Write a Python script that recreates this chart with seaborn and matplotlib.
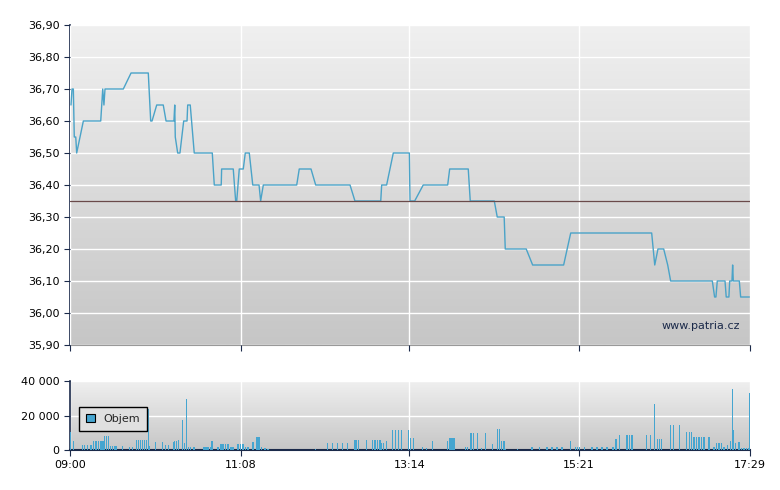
import numpy as np
import pandas as pd
import matplotlib
matplotlib.use("Agg")
import matplotlib.pyplot as plt
import seaborn as sns

# price path: minutes after 09:00, price
price_t = [0.75,1.5,2.5,3.2,4.3,5,10,23,24.5,25.4,26.2,39.9,45.7,58.6,60.4,61.4,64.9,69.8,71.9,77.8,78.4,78.8,80.6,82.3,
           85.1,87.6,88.1,90,93,106.5,108,113.2,113.5,122.2,124,124.8,126.7,129.7,131.2,134.2,136.8,141.5,142.7,144.7,
           169.7,171.6,180.4,183.9,209.6,213.3,232.6,233.3,237,242,254,254.5,258,264.4,282.7,284.2,298.1,299.6,317.6,
           319.8,325,325.8,341.5,346.3,369.5,374.8,435.4,437.7,440.1,444.4,447.4,449.6,480.8,482.5,483.5,484.5,490.3,
           491.2,493.2,493.8,495.5,496,496.5,501,502,508.5]
price_v = [36.65,36.70,36.70,36.55,36.55,36.50,36.60,36.60,36.70,36.65,36.70,36.70,36.75,36.75,36.60,36.60,36.65,36.65,
           36.60,36.60,36.65,36.55,36.50,36.50,36.60,36.60,36.65,36.65,36.50,36.50,36.40,36.40,36.45,36.45,36.35,36.35,
           36.45,36.45,36.50,36.50,36.40,36.40,36.35,36.40,36.40,36.45,36.45,36.40,36.40,36.35,36.35,36.40,36.40,36.50,
           36.50,36.35,36.35,36.40,36.40,36.45,36.45,36.35,36.35,36.30,36.30,36.20,36.20,36.15,36.15,36.25,36.25,36.15,
           36.20,36.20,36.15,36.10,36.10,36.05,36.05,36.10,36.10,36.05,36.05,36.10,36.10,36.15,36.10,36.10,36.05,36.05]
ref_price = 36.35

# volume bars: position in px-units of zoom (converted to minutes below), volume
vol_X = [143,150,168,172,178,185,190,195,200,205,209,212,216,220,224,228,232,235,248,262,268,276,280,284,288,292,296,300,
         301,303,315,328,335,340,350,353,357,360,369,373,377,381,385,392,412,416,420,425,428,440,446,450,455,460,466,470,
         480,485,490,495,500,510,518,522,527,534,540,636,660,670,680,690,700,715,718,722,738,750,755,760,765,768,772,778,
         790,796,802,808,822,826,832,850,858,870,900,905,909,913,936,940,946,949,952,960,968,977,990,1001,1004,1008,1012,
         1015,1017,1040,1070,1085,1100,1110,1120,1130,1147,1157,1161,1165,1175,1190,1200,1210,1220,1232,1238,1245,1260,
         1265,1270,1300,1308,1316,1322,1326,1330,1348,1354,1366,1380,1385,1390,1395,1400,1405,1410,1415,1425,1435,1440,
         1445,1450,1455,1462,1468,1472,1474,1478,1485,1490,1495,1500,1505,1507]
vol_v = [10600,5200,3000,3000,3000,3000,5500,5500,5500,5500,5500,8000,8000,8000,2500,2500,2500,2500,2500,2000,2000,6000,
         6000,6000,6000,6000,6000,6000,23500,2500,4500,4500,3000,3000,4500,5000,5500,6000,17500,4000,29500,2000,2000,2000,
         2000,2000,2000,2000,5000,2000,3500,3500,3500,3500,1500,1500,3500,3500,3500,1500,1500,4500,7500,7500,2000,1000,500,
         500,4000,4000,4000,4000,4000,5700,5700,5700,5700,5700,5700,5700,5700,4000,4000,5400,11500,11500,11500,11500,11500,
         7000,7000,1500,1000,5000,5000,7000,7000,7000,1500,1500,10000,10000,10000,10000,1000,10000,3500,12000,12000,5000,
         5000,5000,500,500,1500,1500,1500,1500,1500,1500,5000,1500,1500,1500,1500,1500,1500,1500,1500,1500,6500,8500,8500,
         8500,8500,8500,8500,26500,6500,6500,6500,14500,14500,14500,10500,10500,10500,7500,7500,7500,7500,7500,7500,1500,
         4000,4000,4000,2000,3000,5000,35500,11500,4000,4500,1000,1000,1000,1000,33000]

tick_min = [0, 128, 254, 381, 509]
tick_lab = ["09:00", "11:08", "13:14", "15:21", "17:29"]
price_ticks = [35.90,36.00,36.10,36.20,36.30,36.40,36.50,36.60,36.70,36.80,36.90]
vol_ticks = [0, 20000, 40000]
vol_lab = ["0", "20 000", "40 000"]

plt.rcParams["font.family"] = "Liberation Sans"
sns.set_style("white")
navy = "#1b2a4a"

fig = plt.figure(figsize=(7.8, 4.9), dpi=100)
ax = fig.add_axes([70/780, (490-345)/490, 680/780, 320/490])
axv = fig.add_axes([70/780, 40/490, 680/780, 69/490])

grad = np.linspace(0, 1, 256).reshape(-1, 1)
from matplotlib.colors import LinearSegmentedColormap
cm = LinearSegmentedColormap.from_list("g", ["#f0f0f0", "#c6c6c6"])
for a in (ax, axv):
    a.imshow(grad, aspect="auto", cmap=cm, extent=[0, 1, 0, 1], transform=a.transAxes, zorder=0)

df = pd.DataFrame({"t": price_t, "p": price_v})
sns.lineplot(data=df, x="t", y="p", ax=ax, color="#4aa3c8", lw=1, zorder=3)
ax.axhline(ref_price, color="#6a4a4a", lw=0.9, zorder=4)
ax.set_xlim(0, 509)
ax.set_ylim(35.90, 36.90)
ax.set_yticks(price_ticks)
ax.set_yticklabels([f"{v:.2f}".replace(".", ",") for v in price_ticks])
ax.set_xticks(tick_min)
ax.set_xticklabels([])
ax.grid(True, color="white", lw=1, zorder=1)
ax.set_axisbelow(False)
ax.set_xlabel(""); ax.set_ylabel("")
ax.text(0.985, 0.06, "www.patria.cz", transform=ax.transAxes, ha="right", va="center", fontsize=8, color=navy, zorder=5)

vt = [(x - 143) / (1507 - 143) * 509 for x in vol_X]
axv.bar(vt, vol_v, width=1.0, color="#45a5d0", edgecolor="none", linewidth=0, zorder=3, label="Objem")
axv.set_xlim(0, 509)
axv.set_ylim(0, 40000)
axv.set_yticks(vol_ticks)
axv.set_yticklabels(vol_lab)
axv.set_xticks(tick_min)
axv.set_xticklabels(tick_lab)
axv.grid(True, color="white", lw=1, zorder=1)
leg = axv.legend(loc="center left", bbox_to_anchor=(0.005, 0.45), fancybox=False, fontsize=8,
                 handlelength=0.8, handleheight=0.8, borderpad=0.6, framealpha=1)
leg.get_frame().set_edgecolor("black"); leg.get_frame().set_facecolor("#e0e0e0")
for h in leg.legend_handles:
    h.set_edgecolor("black"); h.set_linewidth(0.8)

for a in (ax, axv):
    for s in ("top", "right"):
        a.spines[s].set_visible(False)
    a.spines["left"].set_color(navy)
    a.spines["bottom"].set_color(navy)
    a.spines["left"].set_linewidth(1.2)
    a.tick_params(axis="both", colors=navy, labelsize=8, length=4, direction="out", left=True, bottom=True)
    a.tick_params(axis="both", labelcolor="black")
ax.spines["bottom"].set_color("#999999")
axv.spines["bottom"].set_linewidth(1.5)

fig.savefig("out.png", dpi=100)
